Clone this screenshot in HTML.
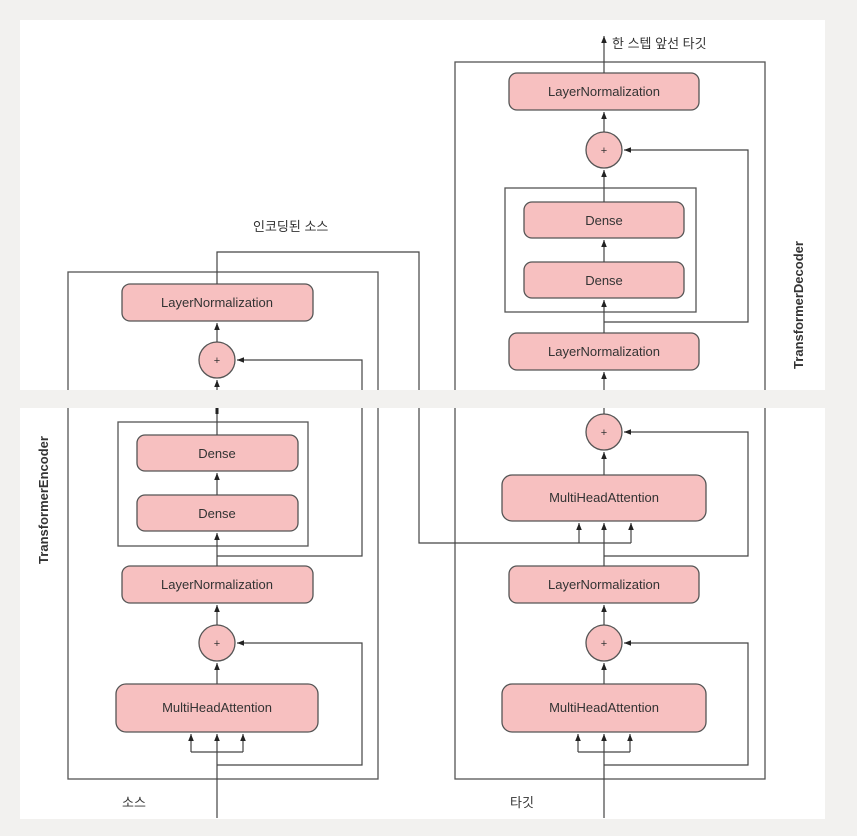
<!DOCTYPE html>
<html><head><meta charset="utf-8"><style>
html,body{margin:0;padding:0;background:#f2f1ef;}
svg{display:block}
text{font-family:"Liberation Sans","Noto Sans CJK KR",sans-serif;fill:#333;}
</style></head><body>
<svg width="857" height="836" viewBox="0 0 857 836" xmlns="http://www.w3.org/2000/svg">
<defs>
<marker id="a" viewBox="0 0 10 10" refX="10" refY="5" markerWidth="7" markerHeight="7" orient="auto-start-reverse" markerUnits="userSpaceOnUse"><path d="M0,1 L10,5 L0,9z" fill="#222"/></marker>
</defs>
<rect x="20" y="20" width="805" height="370" fill="#fff"/>
<rect x="20" y="408" width="805" height="411" fill="#fff"/>
<g fill="none" stroke="#555" stroke-width="1.3">
<!-- Encoder -->
<rect x="68" y="272" width="310" height="507"/>
<rect x="118" y="422" width="190" height="124"/>
<!-- Decoder -->
<rect x="455" y="62" width="310" height="717"/>
<rect x="505" y="188" width="191" height="124"/>
</g>
<g fill="#f7c0c0" stroke="#555" stroke-width="1.3">
<rect x="122" y="284" width="191" height="37" rx="8"/>
<circle cx="217" cy="360" r="18"/>
<rect x="137" y="435" width="161" height="36" rx="8"/>
<rect x="137" y="495" width="161" height="36" rx="8"/>
<rect x="122" y="566" width="191" height="37" rx="8"/>
<circle cx="217" cy="643" r="18"/>
<rect x="116" y="684" width="202" height="48" rx="10"/>
<rect x="509" y="73" width="190" height="37" rx="8"/>
<circle cx="604" cy="150" r="18"/>
<rect x="524" y="202" width="160" height="36" rx="8"/>
<rect x="524" y="262" width="160" height="36" rx="8"/>
<rect x="509" y="333" width="190" height="37" rx="8"/>
<circle cx="604" cy="432" r="18"/>
<rect x="502" y="475" width="204" height="46" rx="10"/>
<rect x="509" y="566" width="190" height="37" rx="8"/>
<circle cx="604" cy="643" r="18"/>
<rect x="502" y="684" width="204" height="48" rx="10"/>
</g>
<g fill="none" stroke="#444" stroke-width="1.2">
<!-- encoder flow -->
<path d="M217 818 V734" marker-end="url(#a)"/>
<path d="M191 752 V734" marker-end="url(#a)"/>
<path d="M243 752 V734" marker-end="url(#a)"/>
<path d="M191 752 H243"/>
<path d="M217 765 H362 V643 H237" marker-end="url(#a)"/>
<path d="M217 684 V663" marker-end="url(#a)"/>
<path d="M217 625 V605" marker-end="url(#a)"/>
<path d="M217 566 V533" marker-end="url(#a)"/>
<path d="M217 495 V473" marker-end="url(#a)"/>
<path d="M217 435 V390"/>
<path d="M217 556 H362 V360 H237" marker-end="url(#a)"/>
<path d="M217 408 V408"/>
<path d="M217 390 V380" marker-end="url(#a)"/>
<path d="M217 342 V323" marker-end="url(#a)"/>
<path d="M217 284 V252 H419 V543 H631"/>
<path d="M579 543 V523" marker-end="url(#a)"/>
<path d="M631 543 V523" marker-end="url(#a)"/>
<!-- decoder flow -->
<path d="M604 818 V734" marker-end="url(#a)"/>
<path d="M578 752 V734" marker-end="url(#a)"/>
<path d="M630 752 V734" marker-end="url(#a)"/>
<path d="M578 752 H630"/>
<path d="M604 765 H748 V643 H624" marker-end="url(#a)"/>
<path d="M604 684 V663" marker-end="url(#a)"/>
<path d="M604 625 V605" marker-end="url(#a)"/>
<path d="M604 566 V523" marker-end="url(#a)"/>
<path d="M604 556 H748 V432 H624" marker-end="url(#a)"/>
<path d="M604 475 V452" marker-end="url(#a)"/>
<path d="M604 414 V390"/>
<path d="M604 390 V372" marker-end="url(#a)"/>
<path d="M604 333 V300" marker-end="url(#a)"/>
<path d="M604 322 H748 V150 H624" marker-end="url(#a)"/>
<path d="M604 262 V240" marker-end="url(#a)"/>
<path d="M604 202 V170" marker-end="url(#a)"/>
<path d="M604 132 V112" marker-end="url(#a)"/>
<path d="M604 73 V36" marker-end="url(#a)"/>
</g>
<rect x="20" y="390" width="805" height="18" fill="#f2f1ef"/>
<path d="M217 408 V414" stroke="#222" stroke-width="3"/>
<g font-size="13" text-anchor="middle">
<text x="217" y="307">LayerNormalization</text>
<text x="217" y="458">Dense</text>
<text x="217" y="518">Dense</text>
<text x="217" y="589">LayerNormalization</text>
<text x="217" y="712">MultiHeadAttention</text>
<text x="604" y="96">LayerNormalization</text>
<text x="604" y="225">Dense</text>
<text x="604" y="285">Dense</text>
<text x="604" y="356">LayerNormalization</text>
<text x="604" y="502">MultiHeadAttention</text>
<text x="604" y="589">LayerNormalization</text>
<text x="604" y="712">MultiHeadAttention</text>
</g>
<g font-size="11" text-anchor="middle">
<text x="217" y="364">+</text><text x="217" y="647">+</text>
<text x="604" y="154">+</text><text x="604" y="436">+</text><text x="604" y="647">+</text>
</g>
<g font-size="13">
<text x="612" y="48">한 스텝 앞선 타깃</text>
<text x="253" y="231">인코딩된 소스</text>
<text x="122" y="807">소스</text>
<text x="510" y="807">타깃</text>
</g>
<text font-size="13" font-weight="bold" text-anchor="middle" transform="translate(803,305) rotate(-90)">TransformerDecoder</text>
<text font-size="13" font-weight="bold" text-anchor="middle" transform="translate(48,500) rotate(-90)">TransformerEncoder</text>
</svg>
</body></html>
